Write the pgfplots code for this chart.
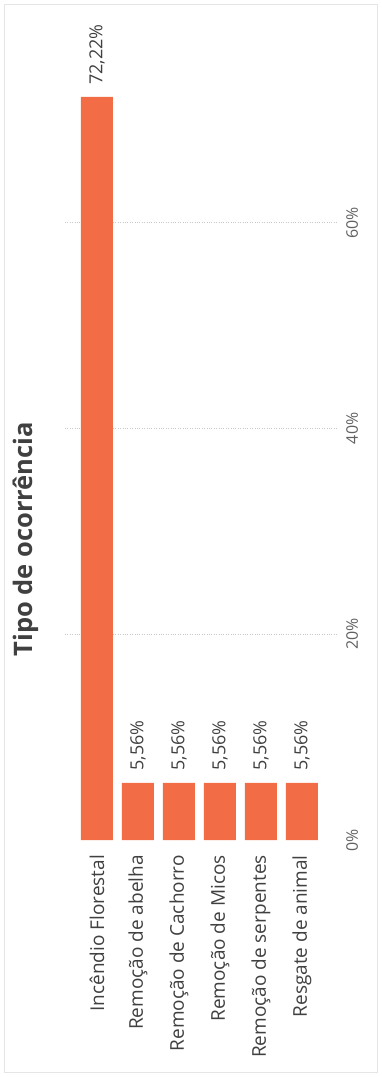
\documentclass[border=0pt]{standalone}
\usepackage{pgfplots}
\pgfplotsset{compat=1.18}
\usepackage{fontspec}
\setmainfont{Open Sans}
\definecolor{barc}{HTML}{F26C45}
\definecolor{txt}{HTML}{404040}
\definecolor{tickc}{HTML}{606060}
\definecolor{gridc}{HTML}{C8C8C8}
\begin{document}
\begin{tikzpicture}[x=1pt,y=1pt]
\path[use as bounding box] (0,0) rectangle (382,1077);
\draw[draw=black!10, line width=0.8pt] (4,5) rectangle (377,1073);
\begin{axis}[
  at={(65pt,237pt)}, anchor=south west,
  scale only axis, width=272pt, height=771.75pt,
  xmin=-0.78, xmax=5.854, ymin=0, ymax=75,
  axis line style={draw=none},
  tick style={draw=none},
  major tick length=0pt,
  /pgf/number format/assume math mode=true,
  xtick={0,1,2,3,4,5},
  xticklabels={Incêndio Florestal,Remoção de abelha,Remoção de Cachorro,Remoção de Micos,Remoção de serpentes,Resgate de animal},
  xticklabel style={rotate=90, anchor=east, inner xsep=15pt, font=\fontsize{19}{22}\selectfont, color=txt},
  ytick={20,40,60},
  extra y ticks={0},
  extra y tick style={grid=none},
  yticklabel pos=right,
  yticklabel={\pgfmathprintnumber{\tick}\%},
  yticklabel style={rotate=90, anchor=north, inner ysep=9pt, font=\fontsize{16}{19}\selectfont, color=tickc},
  ymajorgrids,
  major grid style={gridc, dotted, line width=0.8pt},
  title={Tipo de ocorrência},
  title style={at={(axis description cs:-0.143,0.382)}, rotate=90, anchor=center, font=\bfseries\fontsize{25.5}{30}\selectfont, color=txt},
  clip=false,
]
\addplot[ybar, fill=barc, draw=none, bar width=32pt,
  nodes near coords={\pgfmathprintnumber[fixed,fixed zerofill,precision=2,use comma]{\pgfplotspointmeta}\%},
  every node near coord/.append style={rotate=90, anchor=west, inner xsep=12pt, inner ysep=0pt, font=\fontsize{18}{21}\selectfont, color=txt}]
  coordinates {(0,72.22) (1,5.56) (2,5.56) (3,5.56) (4,5.56) (5,5.56)};
\end{axis}
\end{tikzpicture}
\end{document}
